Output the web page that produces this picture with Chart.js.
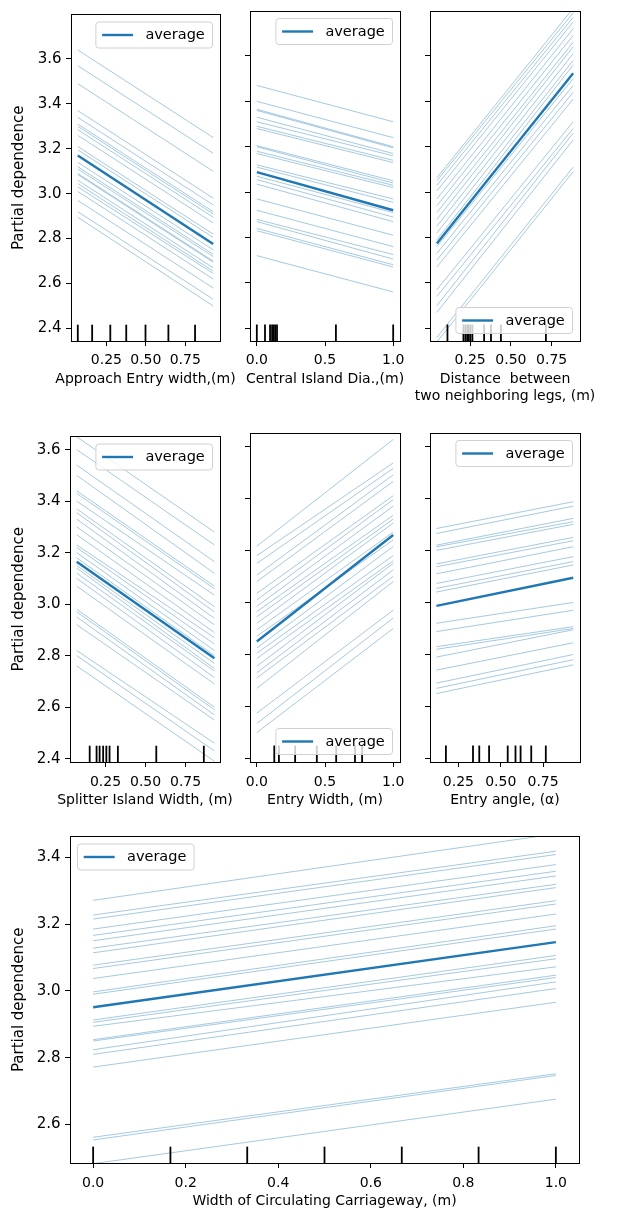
<!DOCTYPE html>
<html>
<head>
<meta charset="utf-8">
<title>Partial dependence</title>
<script src="https://cdn.jsdelivr.net/npm/chart.js@4.4.1/dist/chart.umd.min.js"></script>
<style>
  html, body { margin: 0; padding: 0; background: #fff; overflow: hidden; }
  #wrap { position: relative; width: 619px; height: 1212px; }
  canvas { position: absolute; }
</style>
</head>
<body>
<div id="wrap"></div>
<script>
// ---- data ----
// each ICE line: value at the first grid point and at the last one

const p1X = [0.069, 0.927];
const p1IceStart = [3.64, 3.57, 3.49, 3.37, 3.34, 3.31, 3.30, 3.285, 3.26, 3.21, 3.195, 3.14, 3.12, 3.11, 3.09, 3.085, 3.06, 3.045, 3.03, 3.01, 2.97, 2.92, 2.895];
const p1IceEnd = [3.25, 3.18, 3.10, 2.98, 2.95, 2.92, 2.91, 2.895, 2.87, 2.82, 2.805, 2.75, 2.73, 2.72, 2.70, 2.695, 2.67, 2.655, 2.645, 2.62, 2.58, 2.53, 2.50];
const p1Avg = [3.17, 2.776];
const p1Deciles = [0.069, 0.16, 0.275, 0.376, 0.498, 0.643, 0.812];

const p2X = [0, 1];
const p2IceStart = [3.47, 3.40, 3.365, 3.36, 3.33, 3.31, 3.29, 3.28, 3.205, 3.20, 3.18, 3.17, 3.12, 3.11, 3.07, 3.055, 3.035, 2.97, 2.92, 2.88, 2.87, 2.84, 2.83, 2.72];
const p2IceEnd = [3.31, 3.24, 3.20, 3.195, 3.17, 3.16, 3.14, 3.13, 3.05, 3.04, 3.03, 3.02, 2.97, 2.955, 2.91, 2.89, 2.87, 2.81, 2.76, 2.725, 2.705, 2.68, 2.67, 2.56];
const p2Avg = [3.088, 2.92];
const p2Deciles = [0, 0.06, 0.097, 0.112, 0.124, 0.135, 0.148, 0.58, 1.0];

const p3X = [0.046, 0.882];
const p3IceStart = [3.063, 3.05, 3.03, 3.005, 2.97, 2.94, 2.91, 2.88, 2.85, 2.82, 2.79, 2.76, 2.73, 2.70, 2.67, 2.57, 2.54, 2.50, 2.47, 2.36, 2.34];
const p3IceEnd = [3.81, 3.79, 3.77, 3.75, 3.72, 3.69, 3.66, 3.64, 3.61, 3.58, 3.56, 3.50, 3.47, 3.44, 3.41, 3.31, 3.28, 3.26, 3.23, 3.11, 3.09];
const p3Avg = [2.774, 3.524];
const p3Deciles = [0.111, 0.209, 0.221, 0.232, 0.242, 0.252, 0.264, 0.336, 0.378, 0.439, 0.715];

const p4X = [0.07, 0.93];
const p4IceStart = [3.65, 3.60, 3.54, 3.50, 3.44, 3.43, 3.40, 3.37, 3.355, 3.33, 3.30, 3.27, 3.23, 3.22, 3.20, 3.18, 3.15, 3.14, 3.12, 3.10, 3.07, 2.98, 2.97, 2.95, 2.92, 2.82, 2.80, 2.76];
const p4IceEnd = [3.28, 3.23, 3.165, 3.12, 3.07, 3.06, 3.035, 2.99, 2.97, 2.945, 2.92, 2.89, 2.87, 2.845, 2.82, 2.80, 2.77, 2.75, 2.74, 2.715, 2.69, 2.60, 2.59, 2.57, 2.55, 2.46, 2.43, 2.39];
const p4Avg = [3.165, 2.79];
const p4Deciles = [0.151, 0.194, 0.213, 0.235, 0.255, 0.275, 0.327, 0.567, 0.864];

const p5X = [0, 1];
const p5IceStart = [3.216, 3.18, 3.15, 3.105, 3.08, 3.035, 3.01, 2.985, 2.965, 2.945, 2.92, 2.895, 2.87, 2.825, 2.805, 2.785, 2.755, 2.73, 2.71, 2.67, 2.575, 2.535, 2.50];
const p5IceEnd = [3.626, 3.536, 3.515, 3.49, 3.465, 3.41, 3.395, 3.37, 3.335, 3.32, 3.305, 3.27, 3.24, 3.215, 3.18, 3.16, 3.15, 3.125, 3.10, 3.08, 2.97, 2.94, 2.90];
const p5Avg = [2.85, 3.259];
const p5Deciles = [0.128, 0.162, 0.281, 0.44, 0.582, 0.72, 0.772];

const p6X = [0.12, 0.928];
const p6IceStart = [3.284, 3.265, 3.22, 3.214, 3.20, 3.148, 3.137, 3.11, 3.073, 3.054, 3.04, 2.92, 2.888, 2.83, 2.82, 2.79, 2.74, 2.69, 2.67, 2.65];
const p6IceEnd = [3.387, 3.37, 3.323, 3.31, 3.30, 3.25, 3.237, 3.214, 3.176, 3.157, 3.144, 3.0, 2.97, 2.907, 2.90, 2.895, 2.845, 2.80, 2.78, 2.76];
const p6Avg = [2.987, 3.095];
const p6Deciles = [0.176, 0.336, 0.373, 0.431, 0.541, 0.587, 0.617, 0.68, 0.766];

const p7X = [0, 1];
const p7IceStart = [3.271, 3.227, 3.215, 3.185, 3.166, 3.15, 3.128, 3.114, 3.077, 3.067, 3.037, 2.997, 2.99, 2.913, 2.906, 2.894, 2.854, 2.85, 2.824, 2.81, 2.772, 2.562, 2.554, 2.483];
const p7IceEnd = [3.47, 3.418, 3.408, 3.378, 3.358, 3.344, 3.319, 3.309, 3.27, 3.26, 3.23, 3.195, 3.185, 3.106, 3.096, 3.072, 3.047, 3.04, 3.027, 3.007, 2.966, 2.752, 2.747, 2.676];
const p7Avg = [2.951, 3.146];
const p7Deciles = [0, 0.167, 0.333, 0.5, 0.667, 0.833, 1.0];

// axis ranges and labels
const row1YRange = [2.344, 3.798];
const row2YRange = [2.387, 3.651];
const row3YRange = [2.485, 3.462];
const yStep = 0.2;
const yTitle = 'Partial dependence';
const legendLabel = 'average';

// ---- styling / layout ----
Chart.defaults.font.family = 'DejaVu Sans';
Chart.defaults.color = '#000';

const ICE_COLOR = 'rgba(31,119,180,0.4)';
const AVG_COLOR = '#1f77b4';
const X_FS = 14, Y_FS = 15, LEG_FS = 14.5;
const PAD_TOP = 10, PAD_RIGHT = 30;
const TITLE_BASE = 41.5, TITLE_LINE = 17;
const LEG = { w: 116.6, h: 26, gap: 7.5, lineStart: 6.2, lineLen: 31, textX: 49.5 };

const panels = [
  { box: [71, 11, 220, 341], yW: 71, padL: 0, xH: 50, yRange: row1YRange, showY: true, yTitlePad: 9.7,
    xRange: [0.026, 0.97], xStep: 0.25, xDec: 2, xTitle: ['Approach Entry width,(m)'], xTickPad: 5.5,
    x: p1X, start: p1IceStart, end: p1IceEnd, avg: p1Avg, rug: p1Deciles, corner: 'ur' },
  { box: [250, 11, 400, 341], yW: 10, padL: 30, xH: 50, yRange: row1YRange, showY: false,
    xRange: [-0.05, 1.05], xStep: 0.5, xDec: 1, xTitle: ['Central Island Dia.,(m)'], xTickPad: 5.5,
    x: p2X, start: p2IceStart, end: p2IceEnd, avg: p2Avg, rug: p2Deciles, corner: 'ur' },
  { box: [430, 11, 580, 341], yW: 10, padL: 30, xH: 64, yRange: row1YRange, showY: false,
    xRange: [0.004, 0.924], xStep: 0.25, xDec: 2, xTitle: ['Distance  between', 'two neighboring legs, (m)'], xTickPad: 5.5,
    x: p3X, start: p3IceStart, end: p3IceEnd, avg: p3Avg, rug: p3Deciles, corner: 'lr' },
  { box: [70, 433, 220, 762], yW: 70, padL: 0, xH: 50, yRange: row2YRange, showY: true, yTitlePad: 9.7,
    xRange: [0.028, 0.965], xStep: 0.25, xDec: 2, xTitle: ['Splitter Island Width, (m)'], xTickPad: 6.5,
    x: p4X, start: p4IceStart, end: p4IceEnd, avg: p4Avg, rug: p4Deciles, corner: 'ur' },
  { box: [250, 433, 400, 762], yW: 10, padL: 30, xH: 50, yRange: row2YRange, showY: false,
    xRange: [-0.05, 1.05], xStep: 0.5, xDec: 1, xTitle: ['Entry Width, (m)'], xTickPad: 6.5,
    x: p5X, start: p5IceStart, end: p5IceEnd, avg: p5Avg, rug: p5Deciles, corner: 'lr' },
  { box: [430, 433, 580, 762], yW: 10, padL: 30, xH: 50, yRange: row2YRange, showY: false,
    xRange: [0.082, 0.968], xStep: 0.25, xDec: 2, xTitle: ['Entry angle, (\u03b1)'], xTickPad: 6.5,
    x: p6X, start: p6IceStart, end: p6IceEnd, avg: p6Avg, rug: p6Deciles, corner: 'ur' },
  { box: [70, 833, 579, 1163], yW: 70, padL: 0, xH: 49, yRange: row3YRange, showY: true, yTitlePad: 9.7,
    xRange: [-0.05, 1.05], xStep: 0.2, xDec: 1, xTitle: ['Width of Circulating Carriageway, (m)'], xTickPad: 6.5,
    x: p7X, start: p7IceStart, end: p7IceEnd, avg: p7Avg, rug: p7Deciles, corner: 'ul' }
];

function align(px) {
  return Math.round(px - 0.5) + 0.5;
}

// rug of deciles, legend box, x title and the full axes frame
function makeDecor(p) {
  return {
    id: 'decor',
    afterDatasetsDraw(chart) {
      const { ctx, chartArea: a } = chart;
      const xs = chart.scales.x;
      ctx.save();

      ctx.strokeStyle = '#000';
      ctx.lineWidth = 1.8;
      const rugH = (a.bottom - a.top) * 0.05;
      p.rug.forEach(v => {
        const px = xs.getPixelForValue(v);
        ctx.beginPath();
        ctx.moveTo(px, a.bottom);
        ctx.lineTo(px, a.bottom - rugH);
        ctx.stroke();
      });

      let lx, ly;
      if (p.corner === 'ul') lx = a.left + LEG.gap; else lx = a.right - LEG.gap - LEG.w;
      if (p.corner === 'lr') ly = a.bottom - LEG.gap - LEG.h; else ly = a.top + LEG.gap;
      const r = 3;
      ctx.beginPath();
      ctx.moveTo(lx + r, ly);
      ctx.lineTo(lx + LEG.w - r, ly);
      ctx.arcTo(lx + LEG.w, ly, lx + LEG.w, ly + r, r);
      ctx.lineTo(lx + LEG.w, ly + LEG.h - r);
      ctx.arcTo(lx + LEG.w, ly + LEG.h, lx + LEG.w - r, ly + LEG.h, r);
      ctx.lineTo(lx + r, ly + LEG.h);
      ctx.arcTo(lx, ly + LEG.h, lx, ly + LEG.h - r, r);
      ctx.lineTo(lx, ly + r);
      ctx.arcTo(lx, ly, lx + r, ly, r);
      ctx.closePath();
      ctx.fillStyle = 'rgba(255,255,255,0.8)';
      ctx.fill();
      ctx.lineWidth = 1;
      ctx.strokeStyle = '#d0d0d0';
      ctx.stroke();

      const cy = ly + LEG.h / 2;
      ctx.strokeStyle = AVG_COLOR;
      ctx.lineWidth = 2.4;
      ctx.beginPath();
      ctx.moveTo(lx + LEG.lineStart, cy);
      ctx.lineTo(lx + LEG.lineStart + LEG.lineLen, cy);
      ctx.stroke();
      ctx.fillStyle = '#000';
      ctx.font = LEG_FS + 'px "DejaVu Sans"';
      ctx.textBaseline = 'middle';
      ctx.textAlign = 'left';
      ctx.fillText(legendLabel, lx + LEG.textX, cy + 0.5);

      // x axis title, drawn here so it is not squeezed to the axis width
      ctx.font = X_FS + 'px "DejaVu Sans"';
      ctx.textAlign = 'center';
      ctx.textBaseline = 'alphabetic';
      const cx = (a.left + a.right) / 2;
      p.xTitle.forEach((line, i) => {
        ctx.fillText(line, cx, a.bottom + TITLE_BASE + i * TITLE_LINE);
      });

      ctx.strokeStyle = '#000';
      ctx.lineWidth = 1;
      const l = align(a.left), t = align(a.top), rr = align(a.right), b = align(a.bottom);
      ctx.strokeRect(l, t, rr - l, b - t);
      ctx.restore();
    }
  };
}

const wrap = document.getElementById('wrap');

panels.forEach(p => {
  const [l, t, r, b] = p.box;
  const cv = document.createElement('canvas');
  const w = p.padL + p.yW + (r - l) + PAD_RIGHT;
  const h = PAD_TOP + (b - t) + p.xH;
  cv.width = w;
  cv.height = h;
  cv.style.left = (l - p.yW - p.padL) + 'px';
  cv.style.top = (t - PAD_TOP) + 'px';
  cv.style.width = w + 'px';
  cv.style.height = h + 'px';
  wrap.appendChild(cv);

  const datasets = p.start.map((s, i) => ({
    data: [{ x: p.x[0], y: s }, { x: p.x[1], y: p.end[i] }],
    borderColor: ICE_COLOR,
    borderWidth: 1,
    pointRadius: 0,
    fill: false
  }));
  datasets.push({
    label: legendLabel,
    data: [{ x: p.x[0], y: p.avg[0] }, { x: p.x[1], y: p.avg[1] }],
    borderColor: AVG_COLOR,
    borderWidth: 2.4,
    pointRadius: 0,
    fill: false
  });

  const axisGrid = { drawOnChartArea: false, drawTicks: true, tickLength: 5, color: '#000', lineWidth: 1 };

  new Chart(cv, {
    type: 'line',
    data: { datasets },
    plugins: [makeDecor(p)],
    options: {
      responsive: false,
      animation: false,
      events: [],
      devicePixelRatio: 1,
      layout: { padding: { top: PAD_TOP, right: PAD_RIGHT, left: p.padL, bottom: 0 } },
      plugins: { legend: { display: false }, tooltip: { enabled: false } },
      scales: {
        x: {
          type: 'linear',
          min: p.xRange[0],
          max: p.xRange[1],
          afterFit: s => { s.height = p.xH; },
          grid: axisGrid,
          border: { display: true, color: '#000', width: 1 },
          ticks: {
            stepSize: p.xStep, includeBounds: false, autoSkip: false, maxRotation: 0,
            padding: p.xTickPad, color: '#000', font: { size: X_FS },
            callback: v => v.toFixed(p.xDec)
          },
          title: { display: false }
        },
        y: {
          type: 'linear',
          min: p.yRange[0],
          max: p.yRange[1],
          afterFit: s => { s.width = p.yW; },
          grid: axisGrid,
          border: { display: true, color: '#000', width: 1 },
          ticks: {
            display: p.showY, stepSize: yStep, includeBounds: false, autoSkip: false,
            padding: 4.5, color: '#000', font: { size: Y_FS },
            callback: v => v.toFixed(1)
          },
          title: { display: p.showY, text: yTitle, color: '#000', font: { size: Y_FS }, padding: { top: p.yTitlePad || 0, bottom: 0 } }
        }
      }
    }
  });
});
</script>
</body>
</html>
